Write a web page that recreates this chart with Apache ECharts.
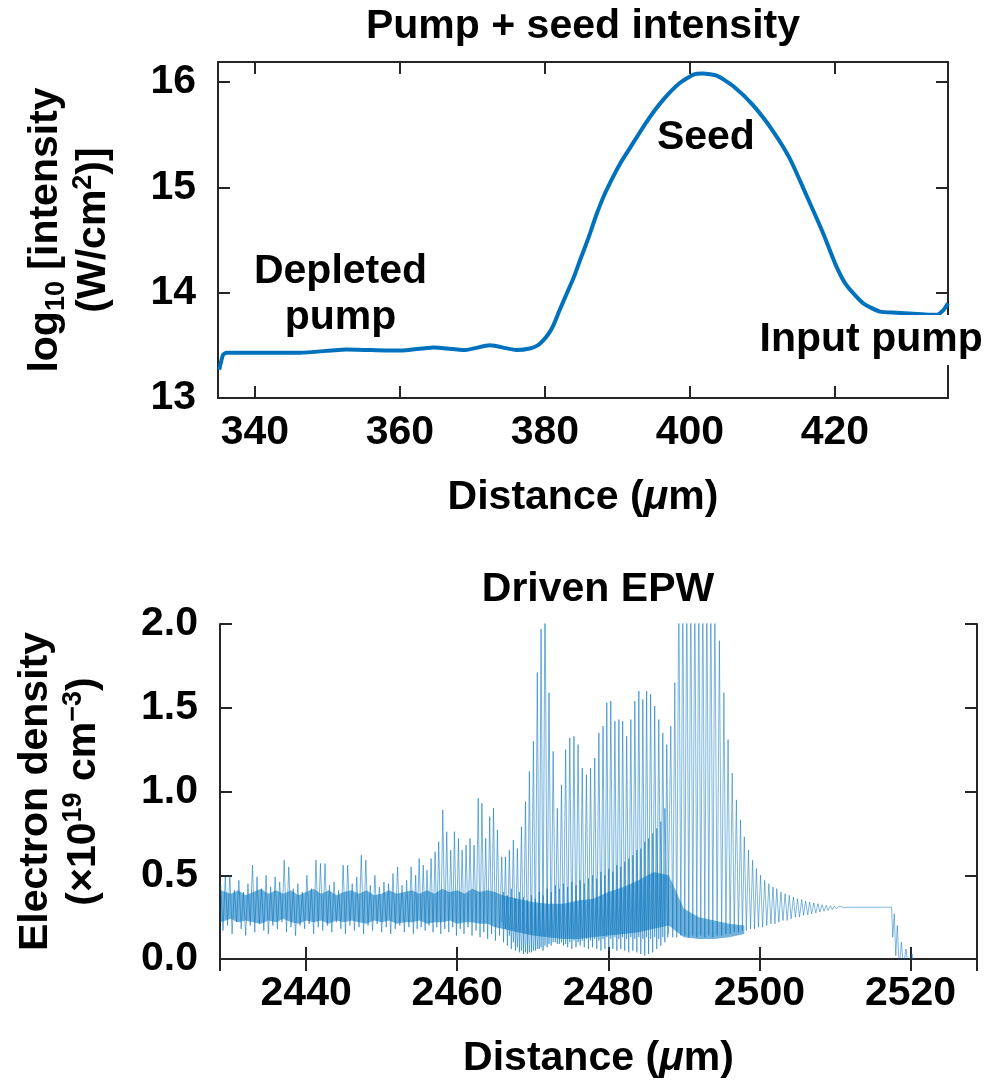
<!DOCTYPE html>
<html>
<head>
<meta charset="utf-8">
<script src="https://cdn.jsdelivr.net/npm/echarts@6.0.0/dist/echarts.min.js"></script>
<style>
  html, body { margin: 0; padding: 0; background: #fff; }
  #main { width: 989px; height: 1083px; }
</style>
</head>
<body>
<div id="main"></div>
<script>
// top panel: pump + seed intensity (log10 W/cm^2)
const pumpX = [335.08, 335.6, 336.1, 340, 346.2, 352.6, 356, 360.0, 364.6, 369.0, 372.4, 376.1, 377.9, 379.0, 379.8,
  380.5, 381.1, 382.0, 383.0, 384.0, 384.8, 386.0, 387.1, 388.2, 389.4, 390.5, 391.7, 394.0, 396.3, 398.6, 400.5, 401.8,
  403.7, 406.0, 408.7, 411.5, 413.8, 416.1, 418.4, 420.2, 421.6, 423.9, 426.2, 428.5, 430.8, 433.1, 434.0, 434.9, 435.6];
const pumpY = [13.27, 13.41, 13.43, 13.43, 13.43, 13.46, 13.455, 13.45, 13.48, 13.456, 13.50, 13.456, 13.47, 13.50, 13.55,
  13.61, 13.68, 13.83, 13.99, 14.15, 14.30, 14.52, 14.74, 14.93, 15.10, 15.24, 15.37, 15.62, 15.83, 15.99, 16.07, 16.08,
  16.06, 15.96, 15.78, 15.53, 15.27, 14.92, 14.56, 14.25, 14.07, 13.90, 13.82, 13.81, 13.80, 13.79, 13.79, 13.83, 13.90];

// bottom panel: driven EPW, two overlapping traces [x um, density 1e19 cm^-3]
const epwA = [
  [2428.7,0.44],[2429.0,0.17],[2429.3,0.49],[2429.6,0.20],[2429.9,0.50],[2430.2,0.15],[2430.5,0.41],[2430.8,0.22],
  [2431.1,0.47],[2431.4,0.18],[2431.7,0.40],[2432.0,0.14],[2432.3,0.45],[2432.6,0.20],[2432.9,0.56],[2433.2,0.16],
  [2433.5,0.49],[2433.8,0.21],[2434.1,0.42],[2434.4,0.17],[2434.7,0.50],[2435.0,0.15],[2435.3,0.43],[2435.6,0.20],
  [2435.9,0.49],[2436.2,0.18],[2436.5,0.46],[2436.8,0.22],[2437.1,0.59],[2437.4,0.16],[2437.7,0.55],[2438.0,0.19],
  [2438.3,0.42],[2438.6,0.14],[2438.9,0.45],[2439.2,0.20],[2439.5,0.40],[2439.8,0.18],[2440.1,0.50],[2440.4,0.21],
  [2440.7,0.42],[2441.0,0.15],[2441.3,0.59],[2441.6,0.19],[2441.9,0.57],[2442.2,0.17],[2442.5,0.57],[2442.8,0.20],
  [2443.1,0.44],[2443.4,0.16],[2443.7,0.46],[2444.0,0.22],[2444.3,0.41],[2444.6,0.18],[2444.9,0.56],[2445.2,0.15],
  [2445.5,0.56],[2445.8,0.20],[2446.1,0.45],[2446.4,0.17],[2446.7,0.49],[2447.0,0.19],[2447.3,0.62],[2447.6,0.15],
  [2447.9,0.59],[2448.2,0.20],[2448.5,0.44],[2448.8,0.17],[2449.1,0.50],[2449.4,0.21],[2449.7,0.43],[2450.0,0.16],
  [2450.3,0.46],[2450.6,0.19],[2450.9,0.45],[2451.2,0.15],[2451.5,0.51],[2451.8,0.18],[2452.1,0.55],[2452.4,0.20],
  [2452.7,0.44],[2453.0,0.16],[2453.3,0.47],[2453.6,0.19],[2453.9,0.55],[2454.2,0.15],[2454.5,0.50],[2454.7,0.18],
  [2454.96,0.60],[2455.23,0.19],[2455.5,0.56],[2455.75,0.17],[2456.0,0.53],[2456.27,0.20],[2456.54,0.60],[2456.8,0.16],
  [2457.07,0.64],[2457.3,0.19],[2457.55,0.70],[2457.82,0.15],[2458.09,0.89],[2458.35,0.18],[2458.61,0.76],[2458.88,0.16],
  [2459.14,0.65],[2459.4,0.19],[2459.63,0.76],[2459.9,0.14],[2460.16,0.72],[2460.4,0.18],[2460.65,0.65],[2460.9,0.15],
  [2461.17,0.68],[2461.43,0.19],[2461.7,0.72],[2461.96,0.14],[2462.23,0.68],[2462.5,0.17],[2462.78,0.96],[2463.02,0.13],
  [2463.27,0.93],[2463.52,0.16],[2463.77,0.72],[2464.03,0.12],[2464.3,0.85],[2464.55,0.15],[2464.8,0.90],[2465.06,0.11],
  [2465.32,0.77],[2465.6,0.14],[2465.89,0.61],[2466.13,0.10],[2466.38,0.61],[2466.64,0.08],[2466.9,0.65],[2467.16,0.06],
  [2467.43,0.71],[2467.7,0.05],[2467.96,0.66],[2468.23,0.04],[2468.5,0.79],[2468.77,0.03],[2469.03,0.94],[2469.3,0.03],
  [2469.55,1.12],[2469.82,0.04],[2470.08,1.30],[2470.34,0.05],[2470.6,1.71],[2470.85,0.06],[2471.1,1.97],[2471.36,0.05],
  [2471.62,2.3],[2471.9,0.07],[2472.15,1.59],[2472.43,0.08],[2472.7,1.24],[2472.98,0.10],[2473.25,0.90],[2473.52,0.09],
  [2473.8,1.04],[2474.07,0.08],[2474.35,1.25],[2474.62,0.07],[2474.9,1.32],[2475.17,0.06],[2475.45,1.33],[2475.72,0.07],
  [2476.0,1.28],[2476.27,0.08],[2476.55,1.14],[2476.82,0.07],[2477.1,1.10],[2477.37,0.06],[2477.65,1.14],[2477.92,0.07],
  [2478.2,1.20],[2478.47,0.06],[2478.75,1.35],[2479.02,0.05],[2479.3,1.39],[2479.55,0.06],[2479.8,1.53],[2480.06,0.05],
  [2480.33,1.54],[2480.6,0.06],[2480.87,1.42],[2481.13,0.05],[2481.4,1.43],[2481.65,0.06],[2481.9,1.42],[2482.17,0.05],
  [2482.43,1.33],[2482.7,0.04],[2482.98,1.43],[2483.25,0.05],[2483.51,1.54],[2483.78,0.04],[2484.04,1.60],[2484.3,0.03],
  [2484.57,1.55],[2484.82,0.02],[2485.07,1.60],[2485.33,0.03],[2485.6,1.58],[2485.87,0.04],[2486.14,1.51],[2486.41,0.06],
  [2486.68,1.43],[2486.95,0.08],[2487.21,1.35],[2487.48,0.10],[2487.74,1.28],[2488.0,0.15]
];
const epwB = [
  [2465.89,0.22],[2466.13,0.40],[2466.38,0.18],[2466.64,0.38],[2466.9,0.14],[2467.16,0.42],[2467.43,0.10],[2467.7,0.36],
  [2467.96,0.07],[2468.23,0.40],[2468.5,0.05],[2468.77,0.37],[2469.03,0.04],[2469.3,0.35],[2469.55,0.04],[2469.82,0.38],
  [2470.08,0.05],[2470.34,0.36],[2470.6,0.06],[2470.85,0.40],[2471.1,0.07],[2471.36,0.38],[2471.62,0.08],[2471.9,0.42],
  [2472.15,0.09],[2472.43,0.40],[2472.7,0.10],[2472.98,0.44],[2473.25,0.09],[2473.52,0.42],[2473.8,0.10],[2474.07,0.45],
  [2474.35,0.09],[2474.62,0.43],[2474.9,0.10],[2475.17,0.46],[2475.45,0.11],[2475.72,0.44],[2476.0,0.10],[2476.27,0.47],
  [2476.55,0.11],[2476.82,0.45],[2477.1,0.12],[2477.37,0.48],[2477.65,0.11],[2477.92,0.50],[2478.2,0.12],[2478.47,0.48],
  [2478.75,0.11],[2479.02,0.52],[2479.3,0.12],[2479.55,0.50],[2479.8,0.13],[2480.06,0.54],[2480.33,0.12],[2480.6,0.52],
  [2480.87,0.13],[2481.13,0.56],[2481.4,0.12],[2481.65,0.55],[2481.9,0.13],[2482.17,0.58],[2482.43,0.12],[2482.7,0.60],
  [2482.98,0.13],[2483.25,0.62],[2483.51,0.12],[2483.78,0.65],[2484.04,0.13],[2484.3,0.66],[2484.57,0.12],[2484.82,0.70],
  [2485.07,0.13],[2485.33,0.72],[2485.6,0.12],[2485.87,0.75],[2486.14,0.13],[2486.41,0.78],[2486.68,0.12],[2486.95,0.82],
  [2487.21,0.13],[2487.48,0.90],[2487.87,0.13],[2488.27,1.39],[2488.53,0.13],[2488.8,1.65],[2489.06,0.13],[2489.33,2.3],
  [2489.6,0.14],[2489.86,2.3],[2490.12,0.14],[2490.39,2.3],[2490.65,0.13],[2490.92,2.3],[2491.18,0.14],[2491.45,2.3],
  [2491.71,0.13],[2491.98,2.3],[2492.24,0.14],[2492.51,2.3],[2492.77,0.13],[2493.04,2.3],[2493.3,0.14],[2493.57,2.3],
  [2493.83,0.13],[2494.1,2.2],[2494.4,0.14],[2494.7,1.90],[2495.0,0.14],[2495.3,1.59],[2495.57,0.15],[2495.85,1.31],
  [2496.12,0.15],[2496.4,1.11],[2496.67,0.16],[2496.95,0.95],[2497.22,0.16],[2497.5,0.83],[2497.75,0.17],[2498.0,0.73],
  [2498.27,0.17],[2498.55,0.65],[2498.82,0.18],[2499.1,0.59],[2499.35,0.18],[2499.6,0.54],[2499.87,0.19],[2500.15,0.50],
  [2500.42,0.19],[2500.7,0.47],[2500.97,0.20],[2501.25,0.45],[2501.52,0.21],[2501.8,0.43],[2502.05,0.21],[2502.3,0.42],
  [2502.57,0.22],[2502.85,0.40],[2503.12,0.23],[2503.4,0.39],[2503.67,0.23],[2503.95,0.38],[2504.2,0.24],[2504.5,0.37],
  [2504.75,0.25],[2505.05,0.36],[2505.3,0.25],[2505.6,0.355],[2505.85,0.26],[2506.1,0.345],[2506.4,0.265],[2506.65,0.34],
  [2506.92,0.27],[2507.2,0.335],[2507.47,0.275],[2507.75,0.33],[2508.0,0.28],[2508.3,0.325],[2508.55,0.285],[2508.85,0.32],
  [2509.1,0.29],[2509.4,0.318],[2509.65,0.295],[2509.95,0.315],[2510.2,0.30],[2510.5,0.313],[2510.75,0.303],[2511.0,0.311],
  [2511.3,0.306],[2511.6,0.309],[2517.5,0.309],[2517.65,0.13],[2517.85,0.27],[2518.05,0.02],[2518.25,0.20],[2518.5,-0.05],
  [2518.8,0.10],[2519.05,-0.05],[2519.4,0.06],[2519.7,-0.05],[2520.2,0.03],[2520.5,-0.05]
];
// dense core of the noisy trace (lower / upper edge)
const bandX = [2428.7, 2430, 2431, 2432, 2433, 2434, 2435, 2436, 2437, 2438, 2439, 2440, 2441, 2442, 2443, 2444, 2445,
  2446, 2447, 2448, 2449, 2450, 2451, 2452, 2453, 2454, 2455, 2456, 2457, 2458, 2459, 2460, 2461, 2462, 2463, 2464,
  2465, 2466, 2468, 2470, 2472, 2474, 2476, 2478, 2480, 2482, 2484, 2486, 2488, 2490, 2492, 2494, 2496, 2498];
const bandHigh = [0.41, 0.39, 0.41, 0.38, 0.40, 0.42, 0.39, 0.41, 0.39, 0.41, 0.38, 0.40, 0.42, 0.39, 0.41, 0.38,
  0.40, 0.41, 0.39, 0.41, 0.38, 0.39, 0.41, 0.39, 0.40, 0.41, 0.39, 0.41, 0.39, 0.42, 0.40, 0.41, 0.39, 0.42, 0.40, 0.41,
  0.40, 0.38, 0.36, 0.34, 0.33, 0.33, 0.35, 0.36, 0.40, 0.43, 0.47, 0.52, 0.50, 0.30, 0.25, 0.23, 0.21, 0.20];
const bandLow = [0.22, 0.24, 0.22, 0.23, 0.22, 0.21, 0.23, 0.22, 0.24, 0.22, 0.21, 0.23, 0.22, 0.23, 0.21, 0.23,
  0.22, 0.23, 0.22, 0.21, 0.23, 0.22, 0.23, 0.21, 0.22, 0.22, 0.23, 0.21, 0.22, 0.22, 0.23, 0.21, 0.22, 0.22, 0.21, 0.21,
  0.19, 0.18, 0.16, 0.14, 0.13, 0.12, 0.12, 0.13, 0.14, 0.15, 0.16, 0.18, 0.20, 0.13, 0.12, 0.12, 0.13, 0.15];

const FONT = '"Liberation Sans", Arial, Helvetica, sans-serif';
const INK = '#000';
const BLUE = '#0072BD';

const chart = echarts.init(document.getElementById('main'));

const frame = { show: true, lineStyle: { color: '#262626', width: 2 } };
const tickIn = { show: true, inside: true, length: 12, lineStyle: { color: '#262626', width: 2 } };
const tickLabel = { fontFamily: FONT, fontSize: 41, fontWeight: 'bold', color: INK };
const nameRich = {
  a: { fontFamily: FONT, fontSize: 41, fontWeight: 'bold', color: INK, lineHeight: 48, verticalAlign: 'middle' },
  i: { fontFamily: FONT, fontSize: 41, fontWeight: 'bold', fontStyle: 'italic', color: INK, lineHeight: 48, verticalAlign: 'middle' },
  sub: { fontFamily: FONT, fontSize: 27, fontWeight: 'bold', color: INK, verticalAlign: 'bottom' },
  sup: { fontFamily: FONT, fontSize: 27, fontWeight: 'bold', color: INK, verticalAlign: 'top' }
};

function xPair(grid, min, max, name) {
  return [
    { type: 'value', gridIndex: grid, min: min, max: max, position: 'bottom',
      axisLine: frame, axisTick: tickIn, splitLine: { show: false },
      axisLabel: Object.assign({ margin: 14, showMinLabel: false, showMaxLabel: false, formatter: v => String(v) }, tickLabel),
      name: name, nameLocation: 'middle', nameGap: 76, nameTextStyle: { rich: nameRich } },
    { type: 'value', gridIndex: grid, min: min, max: max, position: 'top',
      axisLine: frame, axisTick: tickIn, splitLine: { show: false }, axisLabel: { show: false } }
  ];
}
function yPair(grid, min, max, interval, name, gap, fmt, showMax) {
  return [
    { type: 'value', gridIndex: grid, min: min, max: max, interval: interval, position: 'left',
      axisLine: frame, axisTick: tickIn, splitLine: { show: false },
      axisLabel: Object.assign({ margin: 22, formatter: fmt, showMinLabel: true, showMaxLabel: showMax }, tickLabel),
      name: name, nameLocation: 'middle', nameRotate: 90, nameGap: gap, nameTextStyle: { rich: nameRich } },
    { type: 'value', gridIndex: grid, min: min, max: max, interval: interval, position: 'right',
      axisLine: frame, axisTick: tickIn, splitLine: { show: false }, axisLabel: { show: false } }
  ];
}

const annot = { show: true, fontFamily: FONT, fontSize: 41, fontWeight: 'bold', color: INK, lineHeight: 46, position: 'inside' };

const option = {
  animation: false,
  backgroundColor: '#fff',
  grid: [
    { left: 218, top: 62, width: 730, height: 336 },
    { left: 220, top: 624, width: 757, height: 335 }
  ],
  xAxis: [].concat(
    xPair(0, 334.9, 435.6, '{a|Distance (}{i|μ}{a|m)}'),
    xPair(1, 2428.6, 2528.8, '{a|Distance (}{i|μ}{a|m)}')
  ),
  yAxis: [].concat(
    yPair(0, 13, 16.19, 1, '{a|log}{sub|10}{a| [intensity}\n{a|(W/cm}{sup|2}{a|)]}', 100, v => String(v), false),
    yPair(1, 0, 2, 0.5, '{a|Electron density}\n{a|(×10}{sup|19}{a| cm}{sup|−3}{a|)}', 112, v => v.toFixed(1), true)
  ),
  graphic: [
    { type: 'text', x: 583, y: 27, style: { text: 'Pump + seed intensity', font: 'bold 41px ' + FONT, fill: INK, textAlign: 'center', textVerticalAlign: 'middle' } },
    { type: 'text', x: 598, y: 590, style: { text: 'Driven EPW', font: 'bold 41px ' + FONT, fill: INK, textAlign: 'center', textVerticalAlign: 'middle' } }
  ],
  series: [
    {
      type: 'line', xAxisIndex: 0, yAxisIndex: 0,
      data: pumpX.map((x, i) => [x, pumpY[i]]),
      smooth: 0.2, showSymbol: false, clip: true,
      lineStyle: { color: BLUE, width: 4 },
      markPoint: {
        symbol: 'rect', symbolSize: 1, itemStyle: { color: 'rgba(0,0,0,0)' },
        label: annot,
        data: [
          { coord: [351.8, 13.98], label: Object.assign({}, annot, { formatter: 'Depleted\npump' }) },
          { coord: [402.2, 15.47], label: Object.assign({}, annot, { formatter: 'Seed' }) },
          { coord: [425.0, 13.55], label: Object.assign({}, annot, { formatter: 'Input pump', backgroundColor: '#fff', padding: [2, 2, 2, 2] }) }
        ]
      }
    },
    {
      type: 'custom', xAxisIndex: 2, yAxisIndex: 2, data: [0], silent: true,
      renderItem: function (params, api) {
        const upper = bandX.map((x, i) => api.coord([x, bandHigh[i]]));
        const lower = bandX.map((x, i) => api.coord([x, bandLow[i]])).reverse();
        return { type: 'polygon', shape: { points: upper.concat(lower) }, style: { fill: 'rgba(0,114,189,0.55)' } };
      }
    },
    {
      type: 'line', xAxisIndex: 2, yAxisIndex: 2, data: epwA,
      showSymbol: false, clip: true, lineStyle: { color: 'rgba(0,114,189,0.55)', width: 1 }
    },
    {
      type: 'line', xAxisIndex: 2, yAxisIndex: 2, data: epwB,
      showSymbol: false, clip: true, lineStyle: { color: 'rgba(0,114,189,0.5)', width: 1 }
    }
  ]
};

chart.setOption(option);
</script>
</body>
</html>
